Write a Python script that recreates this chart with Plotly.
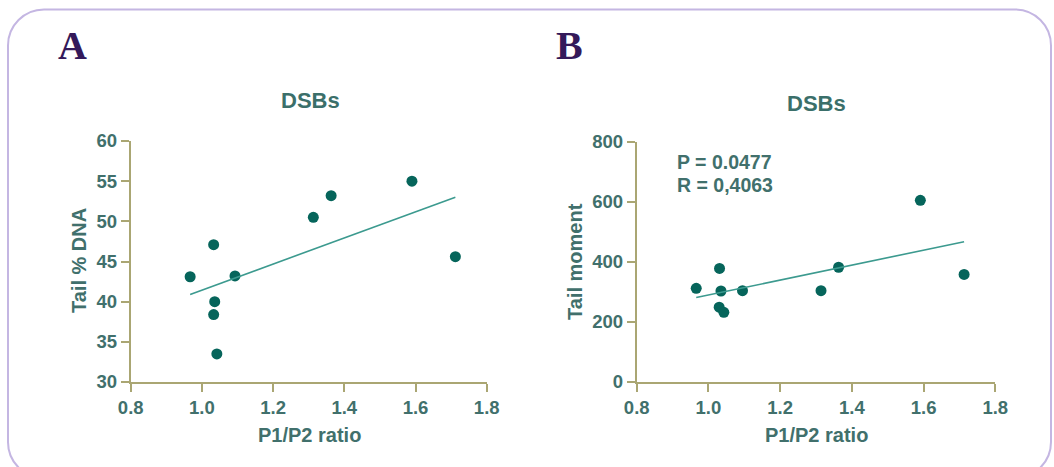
import plotly.graph_objects as go

# ---- data ----
ratio_a = [0.967, 1.033, 1.093, 1.036, 1.033, 1.042, 1.313, 1.363, 1.590, 1.712]
tail_dna = [43.1, 47.1, 43.2, 40.0, 38.4, 33.5, 50.5, 53.2, 55.0, 45.6]
fit_a_x = [0.967, 1.712]
fit_a_y = [40.9, 53.0]

ratio_b = [0.966, 1.031, 1.035, 1.095, 1.030, 1.043, 1.314, 1.363, 1.591, 1.713]
tail_moment = [312, 378, 303, 304, 249, 232, 304, 382, 605, 358]
fit_b_x = [0.966, 1.713]
fit_b_y = [281, 467]

x_ticks = [0.8, 1.0, 1.2, 1.4, 1.6, 1.8]
x_ticklabels = ["0.8", "1.0", "1.2", "1.4", "1.6", "1.8"]
ya_ticks = [30, 35, 40, 45, 50, 55, 60]
yb_ticks = [0, 200, 400, 600, 800]
stats_text = ["P = 0.0477", "R = 0,4063"]

# ---- styles ----
W, H = 1054, 467
MARK = "#06655b"
FIT = "#3c9a8f"
AXIS = "#aaa673"
TXT = "#41706c"
FONT = "Liberation Sans, Arial, sans-serif"

def px(x):
    return x / W

def py(y):
    return 1 - y / H

fig = go.Figure()

fig.add_trace(go.Scatter(x=ratio_a, y=tail_dna, mode="markers",
                         marker=dict(size=11, color=MARK), xaxis="x", yaxis="y",
                         showlegend=False))
fig.add_trace(go.Scatter(x=fit_a_x, y=fit_a_y, mode="lines",
                         line=dict(color=FIT, width=1.6), xaxis="x", yaxis="y",
                         showlegend=False))
fig.add_trace(go.Scatter(x=ratio_b, y=tail_moment, mode="markers",
                         marker=dict(size=11, color=MARK), xaxis="x2", yaxis="y2",
                         showlegend=False))
fig.add_trace(go.Scatter(x=fit_b_x, y=fit_b_y, mode="lines",
                         line=dict(color=FIT, width=1.6), xaxis="x2", yaxis="y2",
                         showlegend=False))

axis_common = dict(showline=True, linecolor=AXIS, linewidth=2, ticks="outside",
                   tickcolor=AXIS, tickwidth=2, ticklen=8, showgrid=False,
                   zeroline=False, automargin=False,
                   tickfont=dict(family=FONT, size=18.5, color=TXT, weight="bold"))

fig.update_layout(
    width=W, height=H,
    margin=dict(l=0, r=0, t=0, b=0),
    paper_bgcolor="white", plot_bgcolor="white",
    xaxis=dict(domain=[px(130.7), px(486.7)], range=[0.8, 1.8], tickvals=x_ticks,
               ticktext=x_ticklabels, anchor="y", **axis_common),
    yaxis=dict(domain=[py(382), py(141)], range=[30, 60], tickvals=ya_ticks,
               anchor="x", **axis_common),
    xaxis2=dict(domain=[px(636.7), px(995.3)], range=[0.8, 1.8], tickvals=x_ticks,
                ticktext=x_ticklabels, anchor="y2", **axis_common),
    yaxis2=dict(domain=[py(382), py(141.7)], range=[0, 800], tickvals=yb_ticks,
                anchor="x2", **axis_common),
)

# rounded border
L, T, R, B, r = 8, 9.5, 1051, 478, 36
def P(x, y):
    return f"{px(x):.5f},{py(y):.5f}"
c = 0.5523 * r
path = (f"M {P(L + r, T)} L {P(R - r, T)} "
        f"C {P(R - r + c, T)} {P(R, T + r - c)} {P(R, T + r)} "
        f"L {P(R, B - r)} "
        f"C {P(R, B - r + c)} {P(R - r + c, B)} {P(R - r, B)} "
        f"L {P(L + r, B)} "
        f"C {P(L + r - c, B)} {P(L, B - r + c)} {P(L, B - r)} "
        f"L {P(L, T + r)} "
        f"C {P(L, T + r - c)} {P(L + r - c, T)} {P(L + r, T)} Z")
fig.add_shape(type="path", xref="paper", yref="paper", path=path,
              line=dict(color="#c4b6e2", width=2), fillcolor="rgba(0,0,0,0)")

def ann(text, x, y, size, color, family=FONT, angle=0, xanchor="center"):
    fig.add_annotation(text=text, x=px(x), y=py(y), xref="paper", yref="paper",
                       showarrow=False, xanchor=xanchor, yanchor="middle",
                       textangle=angle,
                       font=dict(family=family, size=size, color=color, weight="bold"))

# panel letters
ann("A", 72, 46, 40, "#34195a", family="Liberation Serif, Times New Roman, serif")
ann("B", 569, 46, 40, "#34195a", family="Liberation Serif, Times New Roman, serif")
# titles
ann("DSBs", 310, 101, 22, "#3b6f6a")
ann("DSBs", 816, 103, 22, "#3b6f6a")
# axis titles
ann("P1/P2 ratio", 309, 435, 20, TXT)
ann("P1/P2 ratio", 816, 435, 20, TXT)
ann("Tail % DNA", 79, 261, 20, TXT, angle=-90)
ann("Tail moment", 575, 262, 20, TXT, angle=-90)
# stats
ann(stats_text[0], 675, 162, 19.5, TXT, xanchor="left")
ann(stats_text[1], 675, 185, 19.5, TXT, xanchor="left")

fig.write_html("out.html", config={"displayModeBar": False},
               post_script="document.body.style.margin='0';document.body.style.overflow='hidden';")
